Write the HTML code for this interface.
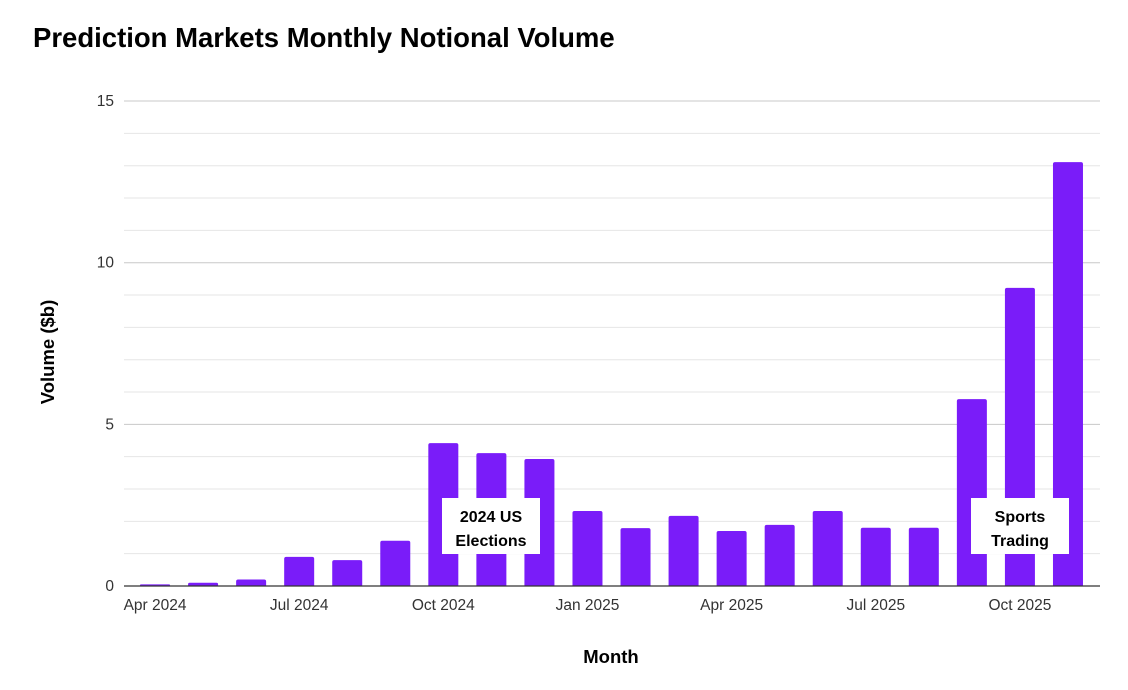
<!DOCTYPE html>
<html><head><meta charset="utf-8"><style>
body{margin:0;background:#fff;font-family:"Liberation Sans",Arial,sans-serif}
svg{display:block}
</style></head><body>
<svg id="c" width="1128" height="690">
<text x="33" y="47" font-size="27.5" font-weight="bold" fill="#000">Prediction Markets Monthly Notional Volume</text>
<text x="611" y="663" font-size="18.5" font-weight="bold" text-anchor="middle">Month</text>
<text transform="translate(54,352) rotate(-90)" font-size="18.5" font-weight="bold" text-anchor="middle">Volume ($b)</text>
<g id="grid"></g><g id="bars"></g><g id="xl"></g>
</svg>
<script>
const categories=["Apr 2024","May 2024","Jun 2024","Jul 2024","Aug 2024","Sep 2024","Oct 2024","Nov 2024","Dec 2024","Jan 2025","Feb 2025","Mar 2025","Apr 2025","May 2025","Jun 2025","Jul 2025","Aug 2025","Sep 2025","Oct 2025","Nov 2025"];
const values=[0.05,0.1,0.2,0.9,0.8,1.4,4.42,4.11,3.93,2.32,1.79,2.17,1.7,1.89,2.32,1.8,1.8,5.78,9.22,13.11];
const yTicks=[0,5,10,15];
const xTickIdx=[0,3,6,9,12,15,18];
const NS="http://www.w3.org/2000/svg";
const x0=131,step=48.05,y0=586,pxu=32.33,L=124,R=1100;
const X=i=>x0+step*i+step/2, Y=v=>y0-v*pxu;
function mk(t,a,p){const e=document.createElementNS(NS,t);for(const k in a)e.setAttribute(k,a[k]);p.appendChild(e);return e;}
const g=document.getElementById('grid');
for(let v=1;v<=15;v++){const l=mk('line',{x1:L,x2:R,y1:Y(v),y2:Y(v),stroke:v%5?'#e6e6e6':'#c8c8c8','stroke-width':1},g);

}
yTicks.forEach(v=>{const t=mk('text',{x:114,y:Y(v)+5,'font-size':15.5,'text-anchor':'end',fill:'#333'},g);t.textContent=v;

});
const b=document.getElementById('bars');
values.forEach((v,i)=>{const h=v*pxu;const r=Math.min(2,h/2);
const p=mk('path',{d:`M${X(i)-15},${y0}V${y0-h+r}Q${X(i)-15},${y0-h} ${X(i)-15+r},${y0-h}H${X(i)+15-r}Q${X(i)+15},${y0-h} ${X(i)+15},${y0-h+r}V${y0}Z`,fill:'#7a1cf9'},b);

});
const ax=mk('line',{x1:L,x2:R,y1:y0,y2:y0,stroke:'#333','stroke-width':1.3},b);


const xl=document.getElementById('xl');
xTickIdx.forEach(i=>{const t=mk('text',{x:X(i),y:610,'font-size':15.5,'text-anchor':'middle',fill:'#333'},xl);t.textContent=categories[i];

});
function note(cx,lines,name){const gg=mk('g',{},xl);


mk('rect',{x:cx-49,y:498,width:98,height:56,fill:'#fff'},gg);
lines.forEach((s,k)=>{const t=mk('text',{x:cx,y:522+k*24,'font-size':16,'font-weight':'bold','text-anchor':'middle',fill:'#000'},gg);t.textContent=s;});}
note(491,["2024 US","Elections"],'annotation-elections');
note(1020,["Sports","Trading"],'annotation-sports');
</script>
</body></html>
